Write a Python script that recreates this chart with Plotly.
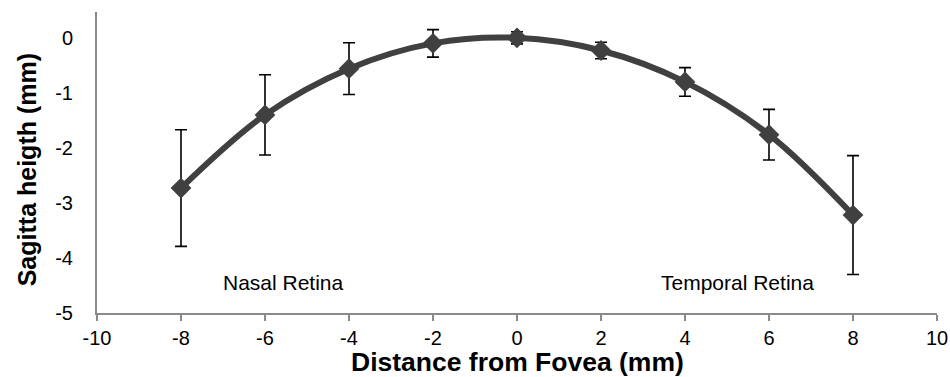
import plotly.graph_objects as go

distance = [-8, -6, -4, -2, 0, 2, 4, 6, 8]
sagitta = [-2.73, -1.40, -0.56, -0.10, 0.00, -0.23, -0.80, -1.76, -3.22]
err = [1.06, 0.73, 0.47, 0.25, 0.11, 0.15, 0.26, 0.46, 1.08]

x_ticks = [-10, -8, -6, -4, -2, 0, 2, 4, 6, 8, 10]
y_ticks = [-5, -4, -3, -2, -1, 0]

FONT = "Liberation Sans, Arial, sans-serif"

fig = go.Figure()
fig.add_trace(go.Scatter(
    x=distance, y=sagitta,
    mode="lines+markers",
    line=dict(color="#404040", width=6, shape="spline", smoothing=1.0),
    marker=dict(symbol="diamond", size=16, color="#404040"),
    error_y=dict(type="data", array=err, visible=True, color="black",
                 thickness=1.6, width=6),
    showlegend=False,
))

fig.add_annotation(x=-5.57, y=-4.45, text="Nasal Retina", showarrow=False,
                   font=dict(family=FONT, size=21, color="black"))
fig.add_annotation(x=5.24, y=-4.45, text="Temporal Retina", showarrow=False,
                   font=dict(family=FONT, size=21, color="black"))

# axis titles placed as paper annotations
fig.add_annotation(xref="paper", yref="paper", x=0.5, y=-0.163,
                   xanchor="center", yanchor="middle", showarrow=False,
                   text="<b>Distance from Fovea (mm)</b>",
                   font=dict(family=FONT, size=26.5, color="black"))
fig.add_annotation(xref="paper", yref="paper", x=-0.083, y=0.475,
                   xanchor="center", yanchor="middle", showarrow=False,
                   textangle=-90,
                   text="<b>Sagitta heigth (mm)</b>",
                   font=dict(family=FONT, size=25, color="black"))

fig.update_layout(
    width=950, height=377,
    margin=dict(l=97, r=13, t=12, b=64),
    paper_bgcolor="white", plot_bgcolor="white",
    font=dict(family=FONT, color="black"),
    xaxis=dict(
        range=[-10, 10], tickvals=x_ticks, ticktext=[str(v) for v in x_ticks],
        showgrid=False, zeroline=False, automargin=False,
        showline=True, linecolor="#8a8a8a", linewidth=2,
        ticks="outside", ticklen=6, tickcolor="#8a8a8a", tickwidth=2,
        tickfont=dict(family=FONT, size=20, color="black"),
    ),
    yaxis=dict(
        range=[-5, 0.47], tickvals=y_ticks, ticktext=[str(v) for v in y_ticks],
        showgrid=False, zeroline=False, automargin=False,
        showline=True, linecolor="#8a8a8a", linewidth=2,
        ticks="", ticklabelstandoff=18,
        tickfont=dict(family=FONT, size=20, color="black"),
    ),
)

fig.write_html("out.html",
               config={"displayModeBar": False},
               post_script="document.body.style.margin='0';"
                           "document.body.style.overflow='hidden';")
